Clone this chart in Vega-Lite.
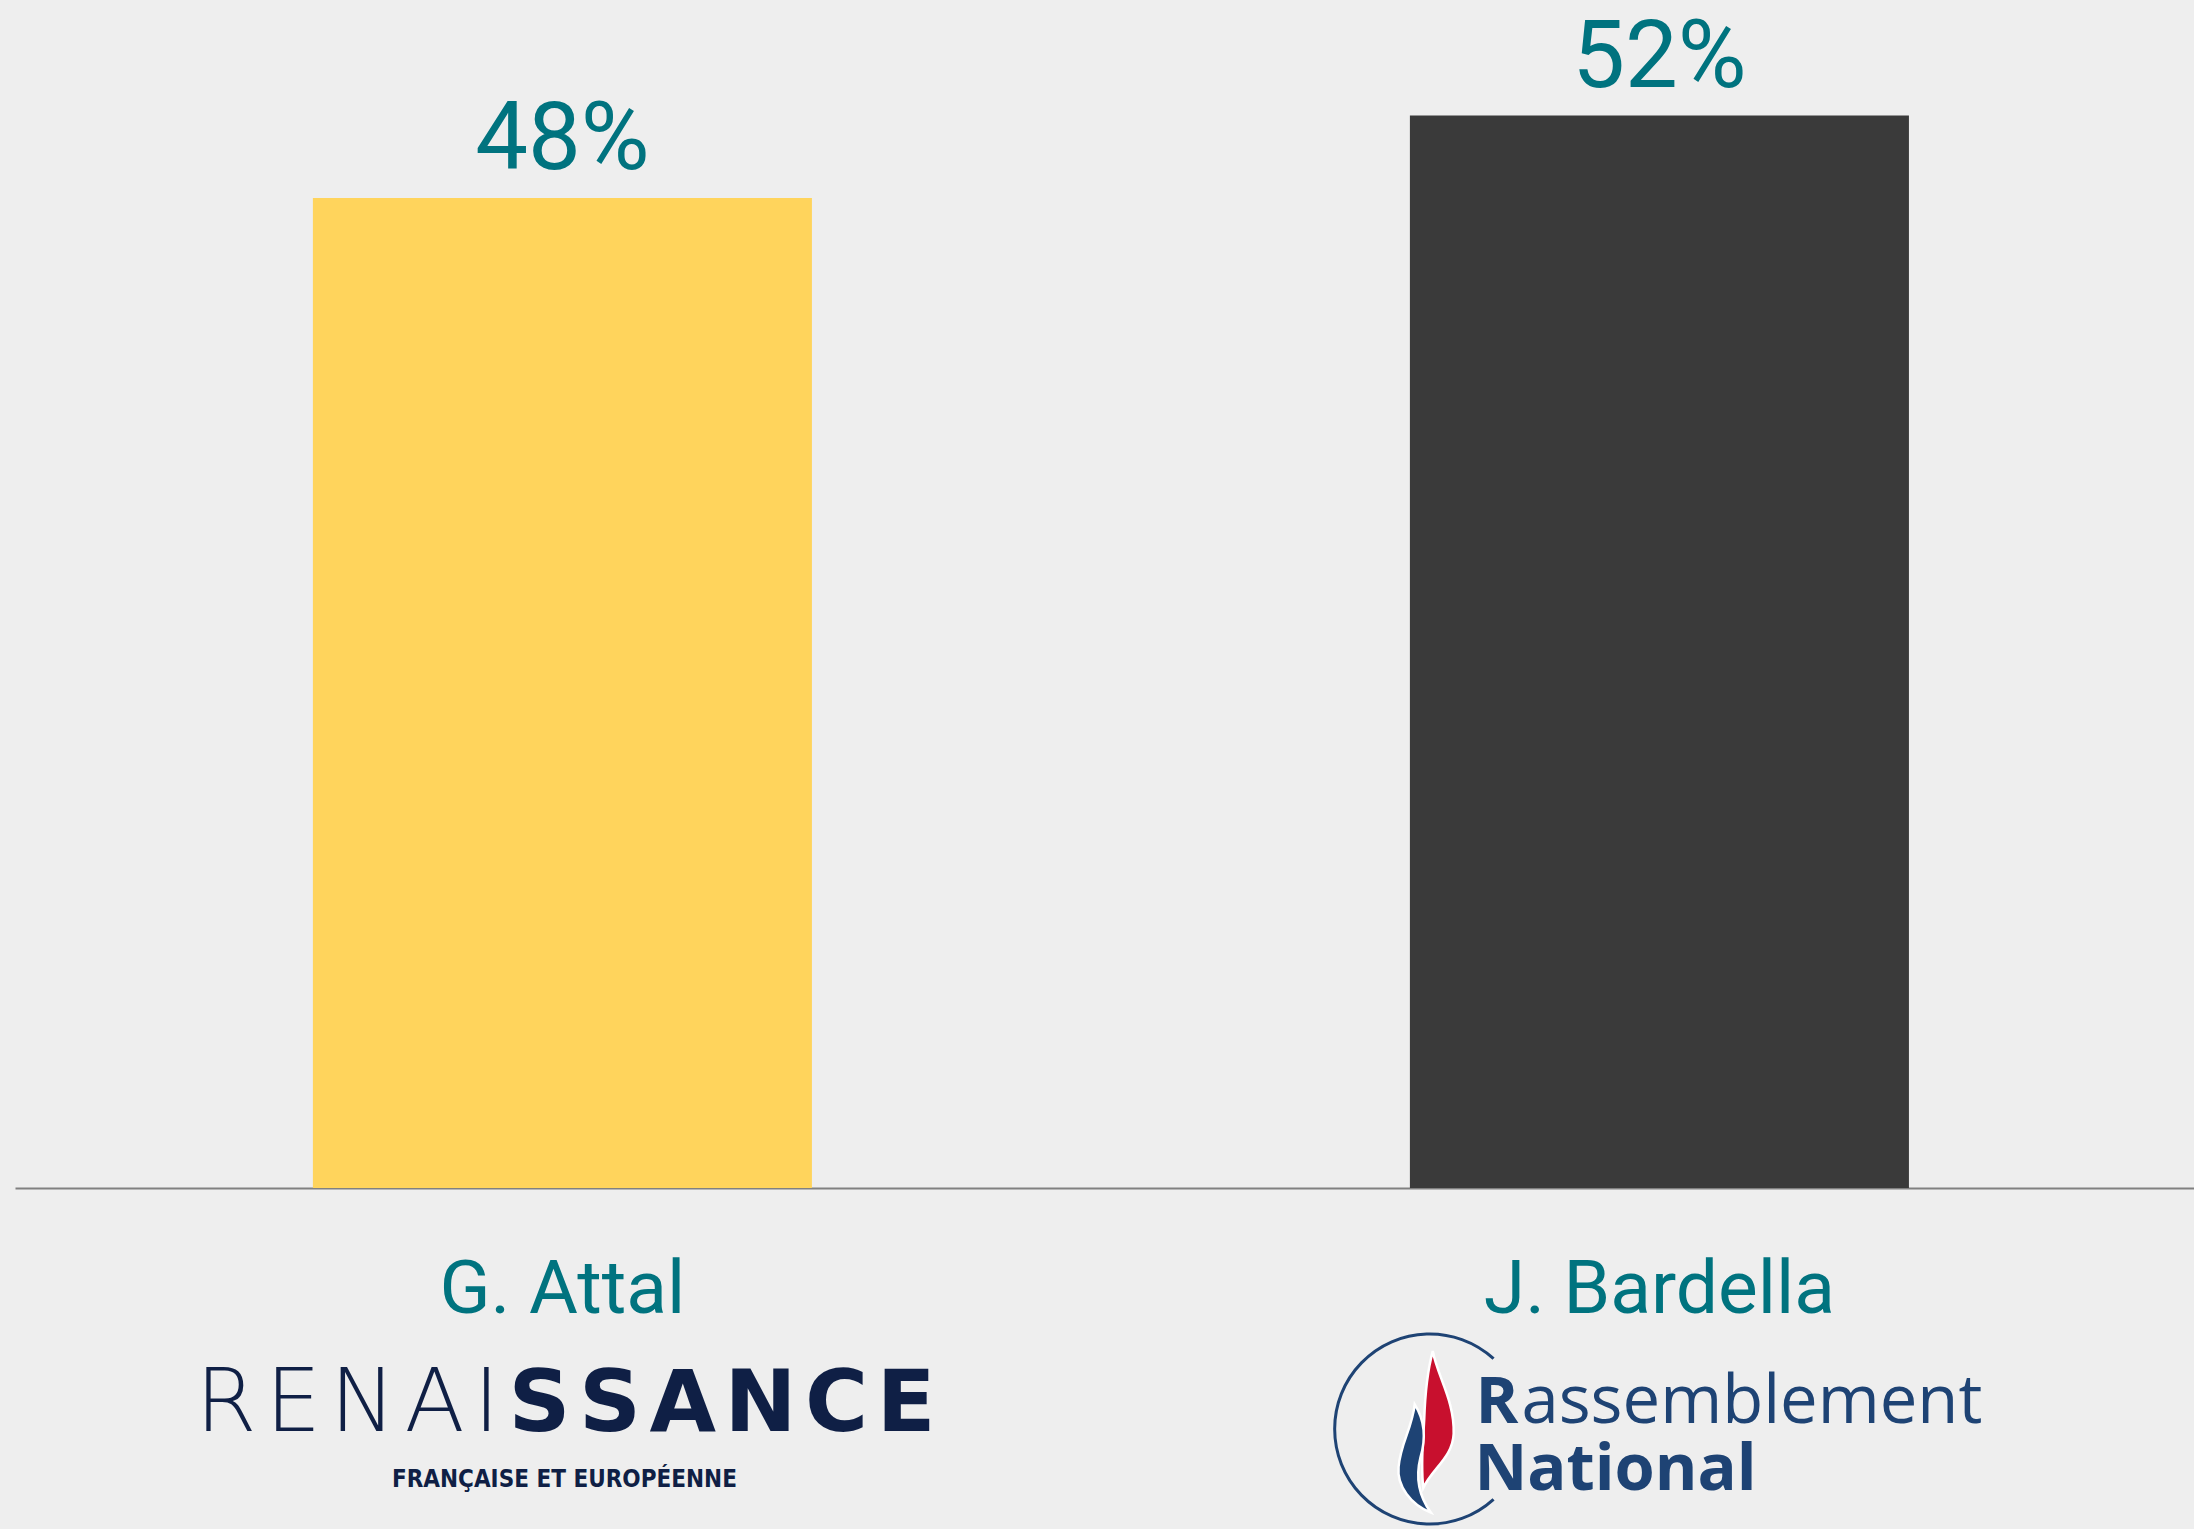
{
  "$schema": "https://vega.github.io/schema/vega-lite/v6.json",
  "width": 2179,
  "height": 1188,
  "autosize": "none",
  "padding": {"left": 15, "top": 0, "right": 0, "bottom": 341},
  "background": "#eeeeee",
  "config": {"view": {"stroke": null}},
  "datasets": {
    "votes": [
      {"candidate": "G. Attal", "pct": 48, "label": "48%"},
      {"candidate": "J. Bardella", "pct": 52, "label": "52%"}
    ],
    "logo": [
      {"candidate": "G. Attal", "part": "ren_light", "label": "R\u200aE\u200aN\u200aA\u200aI"},
      {"candidate": "G. Attal", "part": "ren_bold", "label": "S\u200aS\u200aA\u200aN\u200aC\u200aE"},
      {"candidate": "G. Attal", "part": "ren_sub", "label": "FRANÇAISE ET EUROPÉENNE"},
      {"candidate": "J. Bardella", "part": "rn_r", "label": "R"},
      {"candidate": "J. Bardella", "part": "rn_rest", "label": "assemblement"},
      {"candidate": "J. Bardella", "part": "rn_nat", "label": "National"},
      {"candidate": "J. Bardella", "part": "ring", "label": ""},
      {"candidate": "J. Bardella", "part": "red", "label": ""},
      {"candidate": "J. Bardella", "part": "blue", "label": ""}
    ]
  },
  "data": {"name": "votes"},
  "encoding": {
    "x": {
      "field": "candidate",
      "type": "nominal",
      "sort": null,
      "scale": {"paddingInner": 0.5451, "paddingOuter": 0.2657, "align": 0.511},
      "axis": {
        "title": null,
        "ticks": false,
        "tickSize": 0,
        "domainColor": "#808080",
        "domainWidth": 2,
        "labelFont": "Roboto",
        "labelFontSize": 75,
        "labelColor": "#00737F",
        "labelBaseline": "alphabetic",
        "labelPadding": 124,
        "labelAngle": 0,
        "labelLimit": 1000
      }
    }
  },
  "layer": [
    {
      "mark": {"type": "bar"},
      "encoding": {
        "y": {"field": "pct", "type": "quantitative", "scale": {"domain": [0, 57.6], "nice": false}, "axis": null},
        "color": {"field": "candidate", "type": "nominal", "scale": {"range": ["#FFD45C", "#3A3A3A"]}, "legend": null}
      }
    },
    {
      "mark": {"type": "text", "dy": -29, "baseline": "alphabetic", "fontSize": 94, "font": "Roboto", "color": "#00737F"},
      "encoding": {
        "y": {"field": "pct", "type": "quantitative"},
        "text": {"field": "label"}
      }
    },
    {
      "data": {"name": "logo"},
      "transform": [{"filter": "datum.part == 'ren_light'"}],
      "mark": {"type": "text", "align": "right", "baseline": "alphabetic", "dx": -63, "y": "height", "dy": 243, "font": "DejaVu Sans", "fontWeight": 200, "fontSize": 88, "color": "#0F1F45"},
      "encoding": {"text": {"field": "label"}}
    },
    {
      "data": {"name": "logo"},
      "transform": [{"filter": "datum.part == 'ren_bold'"}],
      "mark": {"type": "text", "align": "left", "baseline": "alphabetic", "dx": -54, "y": "height", "dy": 243, "font": "DejaVu Sans", "fontWeight": "bold", "fontSize": 86, "color": "#0F1F45"},
      "encoding": {"text": {"field": "label"}}
    },
    {
      "data": {"name": "logo"},
      "transform": [{"filter": "datum.part == 'ren_sub'"}],
      "mark": {"type": "text", "align": "center", "baseline": "alphabetic", "dx": 2, "y": "height", "dy": 299, "font": "DejaVu Sans Condensed, Roboto", "fontWeight": "bold", "fontSize": 24, "color": "#0F1F45"},
      "encoding": {"text": {"field": "label"}}
    },
    {
      "data": {"name": "logo"},
      "transform": [{"filter": "datum.part == 'rn_r'"}],
      "mark": {"type": "text", "align": "left", "baseline": "alphabetic", "dx": -184, "y": "height", "dy": 235, "font": "Open Sans", "fontWeight": "bold", "fontSize": 65, "color": "#1E4374"},
      "encoding": {"text": {"field": "label"}}
    },
    {
      "data": {"name": "logo"},
      "transform": [{"filter": "datum.part == 'rn_rest'"}],
      "mark": {"type": "text", "align": "left", "baseline": "alphabetic", "dx": -138, "y": "height", "dy": 235, "font": "Open Sans", "fontSize": 67, "color": "#1E4374"},
      "encoding": {"text": {"field": "label"}}
    },
    {
      "data": {"name": "logo"},
      "transform": [{"filter": "datum.part == 'rn_nat'"}],
      "mark": {"type": "text", "align": "left", "baseline": "alphabetic", "dx": -185, "y": "height", "dy": 302, "font": "Open Sans", "fontWeight": "bold", "fontSize": 65, "color": "#1E4374"},
      "encoding": {"text": {"field": "label"}}
    },
    {
      "data": {"name": "logo"},
      "transform": [{"filter": "datum.part == 'ring'"}],
      "mark": {"type": "point", "shape": "M 0.67 -0.74 A 1 1 0 1 0 0.67 0.74", "size": 36100, "filled": false, "color": "#1E4374", "strokeWidth": 3, "opacity": 1, "xOffset": -229.5, "y": "height", "yOffset": 241},
      "encoding": {}
    },
    {
      "data": {"name": "logo"},
      "transform": [{"filter": "datum.part == 'red'"}],
      "mark": {"type": "point", "shape": "M 0.03 -0.82 C 0.08 -0.55 0.26 -0.3 0.25 0.05 C 0.24 0.3 0.02 0.42 -0.07 0.62 C -0.1 0.35 -0.07 0.1 -0.06 -0.1 C -0.05 -0.4 -0.03 -0.6 0.03 -0.82 Z", "size": 36100, "filled": true, "fill": "#C8102E", "stroke": "#ffffff", "strokeWidth": 2.5, "opacity": 1, "xOffset": -229.5, "y": "height", "yOffset": 241},
      "encoding": {}
    },
    {
      "data": {"name": "logo"},
      "transform": [{"filter": "datum.part == 'blue'"}],
      "mark": {"type": "point", "shape": "M -0.16 -0.26 C -0.06 -0.1 -0.04 0.1 -0.1 0.3 C -0.15 0.5 -0.12 0.7 0.01 0.88 C -0.2 0.8 -0.35 0.6 -0.33 0.4 C -0.31 0.15 -0.19 0.0 -0.16 -0.26 Z", "size": 36100, "filled": true, "fill": "#1E4374", "stroke": "#ffffff", "strokeWidth": 2.5, "opacity": 1, "xOffset": -229.5, "y": "height", "yOffset": 241},
      "encoding": {}
    }
  ]
}
